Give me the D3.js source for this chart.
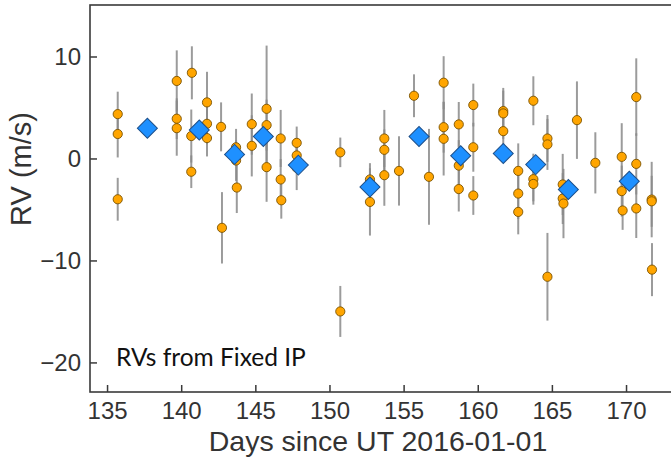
<!DOCTYPE html>
<html>
<head>
<meta charset="utf-8">
<script src="https://cdn.jsdelivr.net/npm/d3@7"></script>
<style>
  body { margin: 0; background: #fff; }
  svg { display: block; }
</style>
</head>
<body>
<svg id="chart"></svg>
<script>
// individual RV measurements (day, rv, 1-sigma error)
const obsDay = [135.72, 135.72, 135.72, 139.70, 139.70, 139.70, 140.72, 140.68, 140.68,
  141.74, 141.74, 141.74, 142.69, 142.75, 143.70, 143.70, 143.75, 144.76, 144.76,
  145.76, 145.76, 145.76, 146.71, 146.71, 146.75, 147.79, 147.79, 147.79,
  150.73, 150.73, 152.73, 152.73, 153.70, 153.70, 153.70, 154.69, 155.70, 156.71,
  157.70, 157.70, 157.70, 158.72, 158.72, 158.72, 159.70, 159.70, 159.70,
  161.72, 161.72, 161.72, 162.73, 162.73, 162.73, 163.75, 163.75, 163.75,
  164.70, 164.70, 164.70, 165.73, 165.73, 165.78, 166.69, 167.93,
  169.71, 169.71, 169.77, 170.69, 170.69, 170.69, 171.73, 171.73, 171.75];
const obsRV = [4.35, 2.4, -4.0, 7.6, 3.9, 2.97, 8.4, 2.2, -1.3,
  5.5, 3.4, 2.0, 3.1, -6.8, 1.1, -0.2, -2.85, 3.37, 1.24,
  4.87, 3.27, -0.85, 1.96, -2.06, -4.1, 1.53, 0.3, -0.9,
  0.6, -15.0, -2.06, -4.26, 1.96, 0.85, -1.64, -1.22, 6.15, -1.8,
  7.43, 3.07, 1.93, 3.34, -0.7, -3.0, 5.24, 1.1, -3.63,
  4.65, 4.42, 2.68, -1.22, -3.44, -5.24, 5.66, -2.03, -2.5,
  1.96, 1.38, -11.6, -2.55, -3.93, -4.42, 3.76, -0.43,
  0.16, -3.2, -5.1, 6.02, -0.53, -4.9, -4.03, -4.2, -10.9];
const obsErr = [2.2, 2.3, 2.1, 3.0, 2.0, 2.7, 2.6, 2.6, 1.6,
  3.0, 2.0, 1.8, 2.4, 3.5, 1.8, 2.0, 2.5, 3.0, 3.0,
  6.2, 2.5, 3.4, 2.8, 2.0, 1.8, 1.6, 1.5, 2.2,
  1.45, 2.5, 1.6, 3.3, 2.8, 2.0, 3.0, 3.4, 2.1, 4.7,
  2.6, 2.5, 3.6, 2.2, 2.5, 2.2, 2.1, 2.4, 1.9,
  2.0, 2.5, 2.5, 2.7, 2.5, 2.2, 2.4, 2.5, 1.7,
  2.3, 2.5, 4.3, 3.0, 2.5, 3.4, 3.8, 3.0,
  3.3, 2.5, 1.9, 3.8, 3.0, 2.9, 3.7, 2.5, 2.6];

// nightly binned values
const binDay = [137.72, 141.22, 143.6, 145.54, 147.9, 152.73, 156.04, 158.85, 161.72, 163.91, 166.11, 170.22];
const binRV = [2.97, 2.8, 0.4, 2.16, -0.65, -2.8, 2.16, 0.26, 0.49, -0.6, -3.05, -2.23];

const xTicks = [135, 140, 145, 150, 155, 160, 165, 170];
const yTicks = [10, 0, -10, -20];

const width = 671, height = 458;
const margin = { top: 5, right: -1, bottom: 66, left: 90 };

const svg = d3.select("#chart")
  .attr("width", width)
  .attr("height", height);

const x = d3.scaleLinear()
  .domain([133.85, 173.1])
  .range([margin.left, width - margin.right]);

const y = d3.scaleLinear()
  .domain([-22.9, 15.05])
  .range([height - margin.bottom, margin.top]);

const obs = obsDay.map((d, i) => ({ day: d, rv: obsRV[i], err: obsErr[i] }));
const bins = binDay.map((d, i) => ({ day: d, rv: binRV[i] }));

// error bars
svg.append("g")
  .selectAll("line")
  .data(obs)
  .join("line")
  .attr("x1", d => x(d.day))
  .attr("x2", d => x(d.day))
  .attr("y1", d => y(d.rv - d.err))
  .attr("y2", d => y(d.rv + d.err))
  .attr("stroke", "#8a8a8a")
  .attr("stroke-opacity", 0.85)
  .attr("stroke-width", 2);

// points
svg.append("g")
  .selectAll("circle")
  .data(obs)
  .join("circle")
  .attr("cx", d => x(d.day))
  .attr("cy", d => y(d.rv))
  .attr("r", 4.6)
  .attr("fill", "#FFA500")
  .attr("stroke", "#7a5200")
  .attr("stroke-width", 0.9);

// binned diamonds
const diamond = d3.symbol().type(d3.symbolSquare).size(200);
svg.append("g")
  .selectAll("path")
  .data(bins)
  .join("path")
  .attr("d", diamond)
  .attr("transform", d => `translate(${x(d.day)},${y(d.rv)}) rotate(45)`)
  .attr("fill", "#1E90FF")
  .attr("stroke", "#1d4f8a")
  .attr("stroke-width", 1);

// frame
svg.append("rect")
  .attr("x", margin.left)
  .attr("y", margin.top)
  .attr("width", width - margin.right - margin.left)
  .attr("height", height - margin.bottom - margin.top)
  .attr("fill", "none")
  .attr("stroke", "#3a3a3a")
  .attr("stroke-width", 1.6);

// axes, ticks pointing inward
const xAxis = svg.append("g")
  .attr("transform", `translate(0,${height - margin.bottom})`)
  .call(d3.axisBottom(x).tickValues(xTicks).tickSizeInner(-7).tickSizeOuter(0).tickPadding(10));

const yAxis = svg.append("g")
  .attr("transform", `translate(${margin.left},0)`)
  .call(d3.axisLeft(y).tickValues(yTicks).tickSizeInner(-7).tickSizeOuter(0).tickPadding(9)
    .tickFormat(d => d < 0 ? "\u2212" + Math.abs(d) : d));

[xAxis, yAxis].forEach(g => {
  g.select(".domain").remove();
  g.selectAll(".tick line").attr("stroke", "#3a3a3a").attr("stroke-width", 1.5);
  g.selectAll(".tick text")
    .attr("fill", "#333")
    .style("font-family", "'Liberation Sans', Arial, sans-serif")
    .style("font-size", "24px");
});

// axis titles
svg.append("text")
  .attr("x", 378)
  .attr("y", 451)
  .attr("text-anchor", "middle")
  .attr("fill", "#333")
  .style("font-family", "'Liberation Sans', Arial, sans-serif")
  .style("font-size", "28.5px")
  .text("Days since UT 2016-01-01");

svg.append("text")
  .attr("transform", "translate(31,169) rotate(-90)")
  .attr("text-anchor", "middle")
  .attr("fill", "#333")
  .style("font-family", "'Liberation Sans', Arial, sans-serif")
  .style("font-size", "29px")
  .text("RV (m/s)");

// annotation
svg.append("text")
  .attr("x", 116)
  .attr("y", 366)
  .attr("fill", "#111")
  .style("font-family", "Lato, 'Open Sans', sans-serif")
  .style("font-size", "24.5px")
  .text("RVs from Fixed IP");
</script>
</body>
</html>
